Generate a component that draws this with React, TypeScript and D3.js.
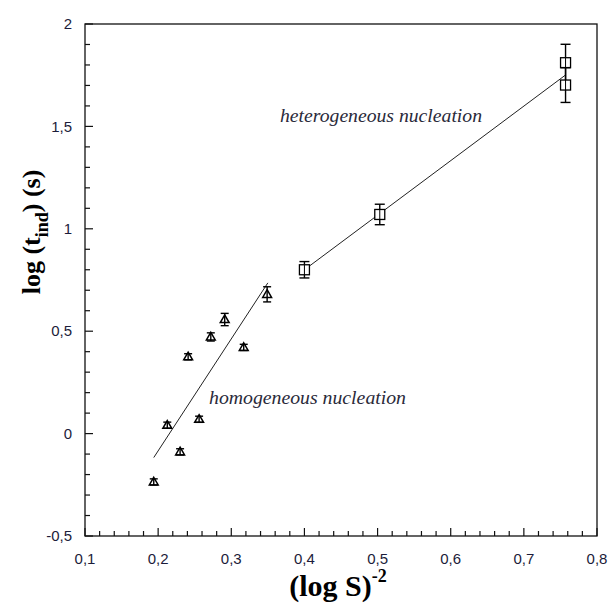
import React, { useEffect, useRef } from 'react';
import * as d3 from 'd3';

// homogeneous nucleation (triangles)
const homX = [0.194, 0.2125, 0.23, 0.256, 0.241, 0.272, 0.291, 0.317, 0.349];
const homY = [-0.236, 0.041, -0.089, 0.07, 0.375, 0.472, 0.557, 0.421, 0.68];
const homErr = [0.015, 0.015, 0.015, 0.015, 0.015, 0.02, 0.03, 0.015, 0.037];

// heterogeneous nucleation (squares)
const hetX = [0.4, 0.503, 0.757, 0.757];
const hetY = [0.8, 1.07, 1.811, 1.702];
const hetErr = [0.04, 0.05, 0.09, 0.085];

// fitted lines
const homFitX = [0.194, 0.35];
const homFitY = [-0.117, 0.736];
const hetFitX = [0.4, 0.757];
const hetFitY = [0.8, 1.751];

const xTicks = [0.1, 0.2, 0.3, 0.4, 0.5, 0.6, 0.7, 0.8];
const yTicks = [-0.5, 0, 0.5, 1, 1.5, 2];

const fmt = (v: number) => String(v).replace('.', ',');

export default function App() {
  const svgRef = useRef<SVGSVGElement>(null);

  useEffect(() => {
    if (!svgRef.current) return;
    const width = 609;
    const height = 603;
    const svg = d3.select(svgRef.current);
    svg.selectAll('*').remove();
    svg.attr('width', width).attr('height', height);

    const x = d3.scaleLinear().domain([0.1, 0.8]).range([85, 597]);
    const y = d3.scaleLinear().domain([-0.5, 2]).range([536, 24]);

    svg.append('rect').attr('width', width).attr('height', height).attr('fill', 'white');

    // frame
    svg.append('rect')
      .attr('x', x(0.1)).attr('y', y(2))
      .attr('width', x(0.8) - x(0.1)).attr('height', y(-0.5) - y(2))
      .attr('fill', 'none').attr('stroke', '#111').attr('stroke-width', 1.3);

    // x ticks (inward)
    const xMinor = d3.range(0.1, 0.8001, 0.02);
    xMinor.forEach(v => {
      const major = Math.abs(v * 10 - Math.round(v * 10)) < 1e-6;
      svg.append('line')
        .attr('x1', x(v)).attr('x2', x(v))
        .attr('y1', y(-0.5)).attr('y2', y(-0.5) - (major ? 8 : 5))
        .attr('stroke', '#111').attr('stroke-width', 1.2);
    });
    xTicks.forEach(v => {
      svg.append('text')
        .attr('x', x(v)).attr('y', 564)
        .attr('text-anchor', 'middle')
        .style('font-family', '"Liberation Sans", Arial, sans-serif')
        .style('font-size', '15px')
        .attr('fill', '#1c1c3a')
        .text(fmt(v));
    });

    // y ticks (inward)
    const yMinor = d3.range(-0.5, 2.0001, 0.1);
    yMinor.forEach(v => {
      const major = Math.abs(v * 2 - Math.round(v * 2)) < 1e-6;
      svg.append('line')
        .attr('x1', x(0.1)).attr('x2', x(0.1) + (major ? 8 : 5))
        .attr('y1', y(v)).attr('y2', y(v))
        .attr('stroke', '#111').attr('stroke-width', 1.2);
    });
    yTicks.forEach(v => {
      svg.append('text')
        .attr('x', 72).attr('y', y(v)).attr('dy', '0.35em')
        .attr('text-anchor', 'end')
        .style('font-family', '"Liberation Sans", Arial, sans-serif')
        .style('font-size', '15px')
        .attr('fill', '#1c1c3a')
        .text(fmt(v));
    });

    // axis titles
    const xt = svg.append('text')
      .attr('x', 338).attr('y', 596)
      .attr('text-anchor', 'middle')
      .style('font-family', '"Liberation Serif", "Times New Roman", serif')
      .style('font-weight', 'bold')
      .style('font-size', '30px')
      .attr('fill', '#000');
    xt.append('tspan').text('(log S)');
    xt.append('tspan').attr('dy', -14).style('font-size', '18px').text('-2');

    const yt = svg.append('text')
      .attr('transform', 'translate(40,232) rotate(-90)')
      .attr('text-anchor', 'middle')
      .style('font-family', '"Liberation Serif", "Times New Roman", serif')
      .style('font-weight', 'bold')
      .style('font-size', '26px')
      .attr('fill', '#000');
    yt.append('tspan').text('log (t');
    yt.append('tspan').attr('dy', 8).style('font-size', '18px').text('ind');
    yt.append('tspan').attr('dy', -8).text(') (s)');

    // fit lines
    svg.append('line')
      .attr('x1', x(homFitX[0])).attr('y1', y(homFitY[0]))
      .attr('x2', x(homFitX[1])).attr('y2', y(homFitY[1]))
      .attr('stroke', '#222').attr('stroke-width', 1);
    svg.append('line')
      .attr('x1', x(hetFitX[0])).attr('y1', y(hetFitY[0]))
      .attr('x2', x(hetFitX[1])).attr('y2', y(hetFitY[1]))
      .attr('stroke', '#222').attr('stroke-width', 1);

    // error bars helper
    const errBar = (cx: number, v: number, e: number, cap: number) => {
      const g = svg.append('g').attr('stroke', '#000').attr('stroke-width', 1.4);
      g.append('line').attr('x1', cx).attr('x2', cx).attr('y1', y(v - e)).attr('y2', y(v + e));
      g.append('line').attr('x1', cx - cap).attr('x2', cx + cap).attr('y1', y(v + e)).attr('y2', y(v + e));
      g.append('line').attr('x1', cx - cap).attr('x2', cx + cap).attr('y1', y(v - e)).attr('y2', y(v - e));
    };

    // triangles
    const tri = d3.symbol().type(d3.symbolTriangle).size(34);
    homX.forEach((xv, i) => {
      svg.append('path')
        .attr('d', tri() as string)
        .attr('transform', `translate(${x(xv)},${y(homY[i]) + 0.5})`)
        .attr('fill', 'white').attr('stroke', '#000').attr('stroke-width', 1.5);
      errBar(x(xv), homY[i], homErr[i], 4);
    });

    // squares
    hetX.forEach((xv, i) => {
      errBar(x(xv), hetY[i], hetErr[i], 5);
      svg.append('rect')
        .attr('x', x(xv) - 5).attr('y', y(hetY[i]) - 5)
        .attr('width', 10).attr('height', 10)
        .attr('fill', 'white').attr('stroke', '#000').attr('stroke-width', 1.3);
      svg.append('line')
        .attr('x1', x(xv)).attr('x2', x(xv))
        .attr('y1', y(hetY[i]) - 5).attr('y2', y(hetY[i]) + 5)
        .attr('stroke', '#000').attr('stroke-width', 1);
    });

    // annotations
    svg.append('text')
      .attr('x', 280).attr('y', 122)
      .attr('textLength', 202).attr('lengthAdjust', 'spacingAndGlyphs')
      .style('font-family', '"Liberation Serif", serif')
      .style('font-style', 'italic')
      .style('font-size', '18px')
      .attr('fill', '#2a2a3a')
      .text('heterogeneous nucleation');
    svg.append('text')
      .attr('x', 209).attr('y', 404)
      .attr('textLength', 197).attr('lengthAdjust', 'spacingAndGlyphs')
      .style('font-family', '"Liberation Serif", serif')
      .style('font-style', 'italic')
      .style('font-size', '18px')
      .attr('fill', '#2a2a3a')
      .text('homogeneous nucleation');
  }, []);

  return (
    <div style={{ position: 'fixed', left: 0, top: 0 }}>
      <svg ref={svgRef} style={{ display: 'block' }}></svg>
    </div>
  );
}
